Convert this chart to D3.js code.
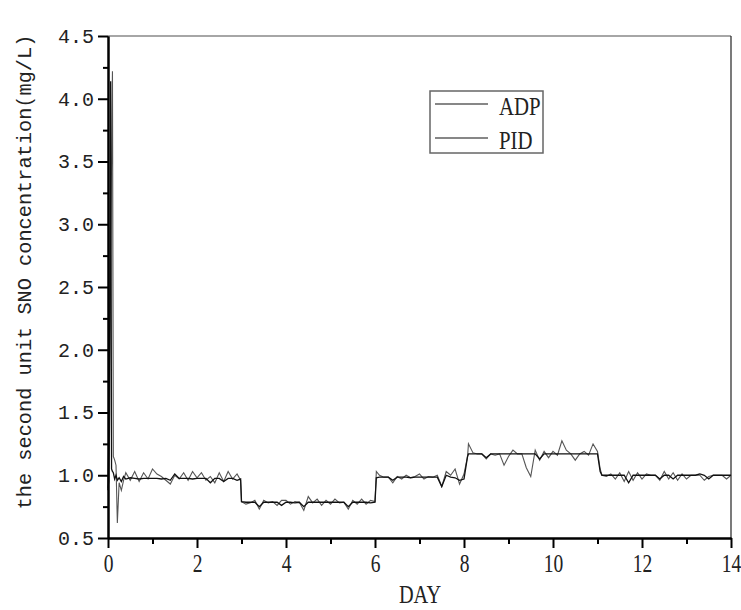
<!DOCTYPE html>
<html>
<head>
<meta charset="utf-8">
<script src="https://cdn.jsdelivr.net/npm/d3@7"></script>
<style>
  body { margin: 0; background: #fff; }
  svg { display: block; }
</style>
</head>
<body>
<div id="chart"></div>
<script>
// sampling times (day)
var days = [
  0, 0.02, 0.04, 0.06, 0.08, 0.09, 0.1, 0.12, 0.15, 0.18, 0.21, 0.25, 0.3, 0.35,
  0.4, 0.5, 0.6, 0.7, 0.8, 0.9,
  1.0, 1.1, 1.2, 1.3, 1.4, 1.5, 1.6, 1.7, 1.8, 1.9,
  2.0, 2.1, 2.2, 2.3, 2.4, 2.5, 2.6, 2.7, 2.8, 2.9,
  2.98,
  3.0, 3.1, 3.2, 3.3, 3.4, 3.5, 3.6, 3.7, 3.8, 3.9,
  4.0, 4.1, 4.2, 4.3, 4.4, 4.5, 4.6, 4.7, 4.8, 4.9,
  5.0, 5.1, 5.2, 5.3, 5.4, 5.5, 5.6, 5.7, 5.8, 5.9,
  6.0, 6.03,
  6.1, 6.2, 6.3, 6.4, 6.5, 6.6, 6.7, 6.8, 6.9,
  7.0, 7.1, 7.2, 7.3, 7.4, 7.5, 7.6, 7.7, 7.8, 7.9,
  8.0, 8.08,
  8.1, 8.2, 8.3, 8.4, 8.5, 8.6, 8.7, 8.8, 8.9,
  9.0, 9.1, 9.2, 9.3, 9.4, 9.5, 9.6, 9.7, 9.8, 9.9,
  10.0, 10.1, 10.2, 10.3, 10.4, 10.5, 10.6, 10.7, 10.8, 10.9,
  11.0, 11.06,
  11.1, 11.2, 11.3, 11.4, 11.5, 11.6, 11.7, 11.8, 11.9,
  12.0, 12.1, 12.2, 12.3, 12.4, 12.5, 12.6, 12.7, 12.8, 12.9,
  13.0, 13.1, 13.2, 13.3, 13.4, 13.5, 13.6, 13.7, 13.8, 13.9, 14.0
];

var adp = [
  0.88, 1.33, 2.3, 4.14, 1.05, 1.04, 1.03, 1.02, 0.97, 1.0, 0.96, 0.98, 0.95, 0.99,
  0.97, 0.98, 0.975, 0.97, 0.975, 0.975,
  0.975, 0.975, 0.97, 0.975, 0.96, 1.01, 0.975, 0.975, 0.975, 0.97,
  0.975, 0.975, 0.975, 0.94, 0.975, 0.975, 0.95, 0.975, 0.975, 0.96,
  0.97,
  0.79, 0.785, 0.785, 0.785, 0.75, 0.785, 0.785, 0.785, 0.785, 0.76,
  0.785, 0.785, 0.78, 0.785, 0.75, 0.785, 0.785, 0.785, 0.785, 0.785,
  0.785, 0.785, 0.785, 0.785, 0.75, 0.785, 0.785, 0.785, 0.785, 0.78,
  0.785, 0.98,
  0.985, 0.985, 0.985, 0.96, 0.985, 0.985, 0.985, 0.98, 0.985,
  0.985, 0.985, 0.985, 0.985, 0.985, 0.91, 1.0, 0.985, 0.98, 0.96,
  0.97, 1.15,
  1.17, 1.17, 1.17, 1.17, 1.14, 1.17, 1.17, 1.17, 1.17,
  1.17, 1.17, 1.17, 1.17, 1.17, 1.17, 1.17, 1.13, 1.17, 1.17,
  1.17, 1.17, 1.17, 1.17, 1.17, 1.17, 1.17, 1.17, 1.17, 1.17,
  1.17, 1.03,
  1.0, 1.0, 1.0, 1.0, 1.0, 1.0, 0.94, 1.0, 1.0,
  1.0, 1.0, 1.0, 1.0, 0.97, 1.0, 1.0, 0.97, 1.0, 1.0,
  1.0, 1.0, 1.0, 1.01, 1.0, 0.97, 1.0, 1.0, 1.0, 1.0, 1.0
];

var pid = [
  0.9, 0.95, 1.5, 2.8, 3.5, 3.9, 4.22, 1.15, 1.12, 1.08, 0.62, 0.94, 0.88, 0.96,
  1.02, 0.96, 1.03, 0.95, 1.02, 0.97,
  1.05, 1.01, 0.99, 0.96, 0.93, 1.0, 0.97, 1.02, 0.96, 1.03,
  0.98, 1.02, 0.96, 0.99, 0.94, 1.02, 0.95, 1.03, 0.97, 1.01,
  0.96,
  0.79, 0.77, 0.78, 0.8, 0.73, 0.8, 0.78, 0.79, 0.76, 0.8,
  0.8, 0.77, 0.79, 0.785, 0.72, 0.83, 0.78, 0.81, 0.76, 0.8,
  0.77, 0.81, 0.78, 0.785, 0.73, 0.8, 0.77, 0.81, 0.77, 0.8,
  0.79, 1.03,
  1.0, 0.985, 0.985, 0.94, 0.99, 0.97, 1.0, 0.98, 0.99,
  1.01, 0.97, 0.99, 0.985, 1.0, 0.91, 1.03, 1.0, 1.05, 0.93,
  1.01, 1.15,
  1.25, 1.18, 1.17, 1.17, 1.13, 1.17, 1.16, 1.17, 1.08,
  1.15, 1.2, 1.17, 1.17, 1.06, 0.99, 1.2, 1.12, 1.19, 1.14,
  1.19, 1.16, 1.275, 1.2, 1.17, 1.12, 1.17, 1.19, 1.16, 1.25,
  1.19, 1.05,
  1.0, 0.99, 1.01, 0.97, 1.02, 0.95, 1.03, 0.96, 1.02,
  0.97, 1.01, 1.0, 1.0, 0.96, 1.03, 0.97, 1.02, 0.96, 1.01,
  0.97, 1.0, 1.0, 1.0, 0.96, 0.99, 1.0, 1.0, 1.0, 0.97, 1.0
];

var yMajor = [0.5, 1.0, 1.5, 2.0, 2.5, 3.0, 3.5, 4.0, 4.5];
var yMinor = [0.75, 1.25, 1.75, 2.25, 2.75, 3.25, 3.75, 4.25];
var xMajor = [0, 2, 4, 6, 8, 10, 12, 14];
var xMinor = [1, 3, 5, 7, 9, 11, 13];
var seriesNames = ["ADP", "PID"];

var W = 741, H = 610;
var margin = {top: 36, right: 10, bottom: 72, left: 108};
var width = 731 - margin.left,
    height = 538 - margin.top;

var svg = d3.select("#chart")
  .append("svg")
  .attr("width", W)
  .attr("height", H);

var g = svg.append("g")
  .attr("transform", "translate(" + margin.left + "," + margin.top + ")");

var x = d3.scaleLinear().domain([0, 14]).range([0, width]);
var y = d3.scaleLinear().domain([0.5, 4.5]).range([height, 0]);

// frame top / right
g.append("line")
  .attr("x1", 0).attr("x2", width).attr("y1", 0).attr("y2", 0)
  .attr("stroke", "#888").attr("stroke-width", 1.5);
g.append("line")
  .attr("x1", width).attr("x2", width).attr("y1", 0).attr("y2", height)
  .attr("stroke", "#222").attr("stroke-width", 1.2);

// data lines
var line = d3.line()
  .x(function(d, i) { return x(days[i]); })
  .y(function(d) { return y(d); });

g.append("path")
  .datum(pid)
  .attr("fill", "none")
  .attr("stroke", "#555")
  .attr("stroke-width", 1.1)
  .attr("d", line);

g.append("path")
  .datum(adp)
  .attr("fill", "none")
  .attr("stroke", "#111")
  .attr("stroke-width", 1.3)
  .attr("d", line);

// y axis
var yAxis = g.append("g")
  .call(d3.axisLeft(y).tickValues(yMajor).tickSize(10).tickSizeOuter(0)
    .tickPadding(4).tickFormat(d3.format(".1f")));
g.append("g")
  .call(d3.axisLeft(y).tickValues(yMinor).tickSize(5).tickSizeOuter(0).tickFormat(""));

// x axis
var xAxis = g.append("g")
  .attr("transform", "translate(0," + height + ")")
  .call(d3.axisBottom(x).tickValues(xMajor).tickSize(10).tickSizeOuter(0)
    .tickPadding(6).tickFormat(d3.format("d")));
g.append("g")
  .attr("transform", "translate(0," + height + ")")
  .call(d3.axisBottom(x).tickValues(xMinor).tickSize(6).tickSizeOuter(0).tickFormat(""));

g.selectAll(".domain").attr("stroke", "#000").attr("stroke-width", 2);
g.selectAll(".tick line").attr("stroke", "#000").attr("stroke-width", 2);

yAxis.selectAll("text")
  .attr("font-family", "Liberation Mono, monospace")
  .attr("font-size", 20)
  .attr("fill", "#222");

xAxis.selectAll("text")
  .attr("font-family", "Liberation Serif, serif")
  .attr("font-size", 25)
  .attr("fill", "#222")
  .attr("transform", "scale(0.78,1)");

// axis titles
svg.append("text")
  .attr("transform", "translate(420,603) scale(0.78,1)")
  .attr("text-anchor", "middle")
  .attr("font-family", "Liberation Serif, serif")
  .attr("font-size", 26)
  .attr("fill", "#222")
  .text("DAY");

svg.append("text")
  .attr("transform", "translate(31,272) rotate(-90)")
  .attr("text-anchor", "middle")
  .attr("font-family", "Liberation Mono, monospace")
  .attr("font-size", 20.3)
  .attr("fill", "#222")
  .text("the second unit SNO concentration(mg/L)");

// legend
var legend = svg.append("g");
legend.append("rect")
  .attr("x", 430).attr("y", 91).attr("width", 113).attr("height", 62)
  .attr("fill", "#fff").attr("stroke", "#666").attr("stroke-width", 1.5);

seriesNames.forEach(function(name, i) {
  var ly = 104 + i * 34;
  legend.append("line")
    .attr("x1", 435).attr("x2", 488).attr("y1", ly).attr("y2", ly)
    .attr("stroke", "#111").attr("stroke-width", 1.2);
  legend.append("text")
    .attr("transform", "translate(499," + (ly + 11) + ") scale(0.8,1)")
    .attr("font-family", "Liberation Serif, serif")
    .attr("font-size", 26)
    .attr("fill", "#222")
    .text(name);
});
</script>
</body>
</html>
